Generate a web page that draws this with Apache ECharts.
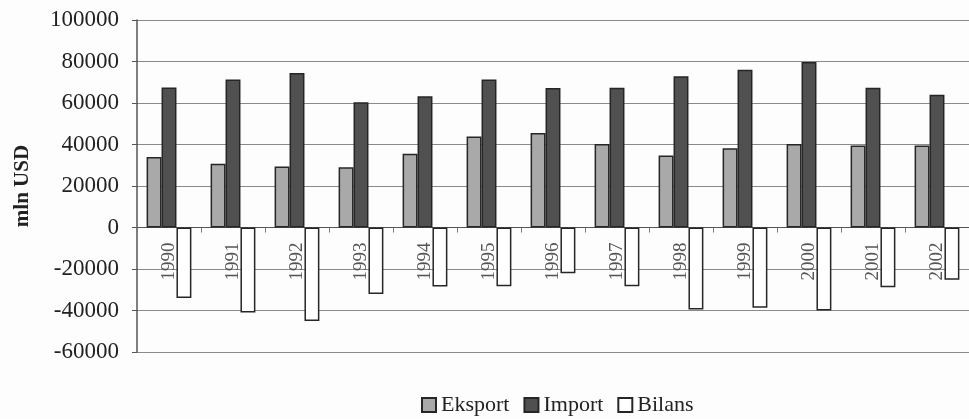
<!DOCTYPE html>
<html>
<head>
<meta charset="utf-8">
<script src="https://cdn.jsdelivr.net/npm/echarts@6/dist/echarts.min.js"></script>
<style>
  html, body { margin: 0; padding: 0; background: #fdfdfd; }
  #chart { width: 969px; height: 419px; }
</style>
</head>
<body>
<div id="chart"></div>
<script>
// Foreign trade, mln USD
const years = ['1990','1991','1992','1993','1994','1995','1996','1997','1998','1999','2000','2001','2002'];
const eksport = [34000, 30700, 29400, 29000, 35500, 43900, 45500, 40300, 34700, 38200, 40300, 39500, 39500];
const importVals = [67500, 71300, 74400, 60400, 63300, 71300, 67200, 67300, 72900, 76000, 79700, 67300, 64000];
const bilans = [-34000, -41000, -45000, -32000, -28400, -28300, -22000, -28300, -39500, -38700, -40000, -28800, -25200];
const yTicks = { min: -60000, max: 100000, step: 20000 };

const serif = 'Liberation Serif, Times New Roman, serif';
const edge = '#262626';

const gridTop = 20, gridBottom = 67, chartH = 419;
const plotH = chartH - gridTop - gridBottom;
// distance from the bottom of the plot up to the zero line
const zeroLift = plotH * (0 - yTicks.min) / (yTicks.max - yTicks.min);

const chart = echarts.init(document.getElementById('chart'));
chart.setOption({
  backgroundColor: '#fdfdfd',
  animation: false,
  textStyle: { fontFamily: serif, color: '#222' },
  grid: { left: 137, top: gridTop, right: -3, bottom: gridBottom },
  legend: {
    left: 416,
    bottom: -2,
    icon: 'rect',
    itemWidth: 14,
    itemHeight: 14,
    itemGap: 14,
    textStyle: { fontFamily: serif, fontSize: 22, color: '#222' },
    data: ['Eksport', 'Import', 'Bilans']
  },
  xAxis: {
    type: 'category',
    data: years,
    offset: -zeroLift,
    axisLine: { onZero: false, lineStyle: { color: '#555', width: 1 } },
    axisTick: { show: true, length: 5, inside: false, lineStyle: { color: '#777' } },
    axisLabel: {
      rotate: 90,
      margin: 15,
      fontFamily: serif,
      fontSize: 19,
      color: '#555',
      padding: [0, 0, 12, 0]
    },
    splitLine: { show: false }
  },
  yAxis: {
    type: 'value',
    min: yTicks.min,
    max: yTicks.max,
    interval: yTicks.step,
    name: 'mln USD',
    nameLocation: 'middle',
    nameGap: 104,
    nameRotate: 90,
    nameTextStyle: { fontFamily: serif, fontSize: 21, fontWeight: 'bold', color: '#222' },
    axisLine: { show: true, lineStyle: { color: '#555', width: 1.5 } },
    axisTick: { show: true, length: 5, lineStyle: { color: '#555' } },
    axisLabel: { margin: 18, fontFamily: serif, fontSize: 23, color: '#222', formatter: v => String(v) },
    splitLine: { show: true, lineStyle: { color: '#8a8a8a', width: 1 } }
  },
  series: [
    {
      name: 'Eksport', type: 'bar', data: eksport,
      barGap: '0%', barCategoryGap: '30%',
      itemStyle: { color: '#a9a9a9', borderColor: edge, borderWidth: 1.5 }
    },
    {
      name: 'Import', type: 'bar', data: importVals,
      barGap: '0%', barCategoryGap: '30%',
      itemStyle: { color: '#505050', borderColor: edge, borderWidth: 1.5 }
    },
    {
      name: 'Bilans', type: 'bar', data: bilans,
      barGap: '0%', barCategoryGap: '30%',
      itemStyle: { color: '#ffffff', borderColor: edge, borderWidth: 1.5 }
    }
  ]
});
</script>
</body>
</html>
